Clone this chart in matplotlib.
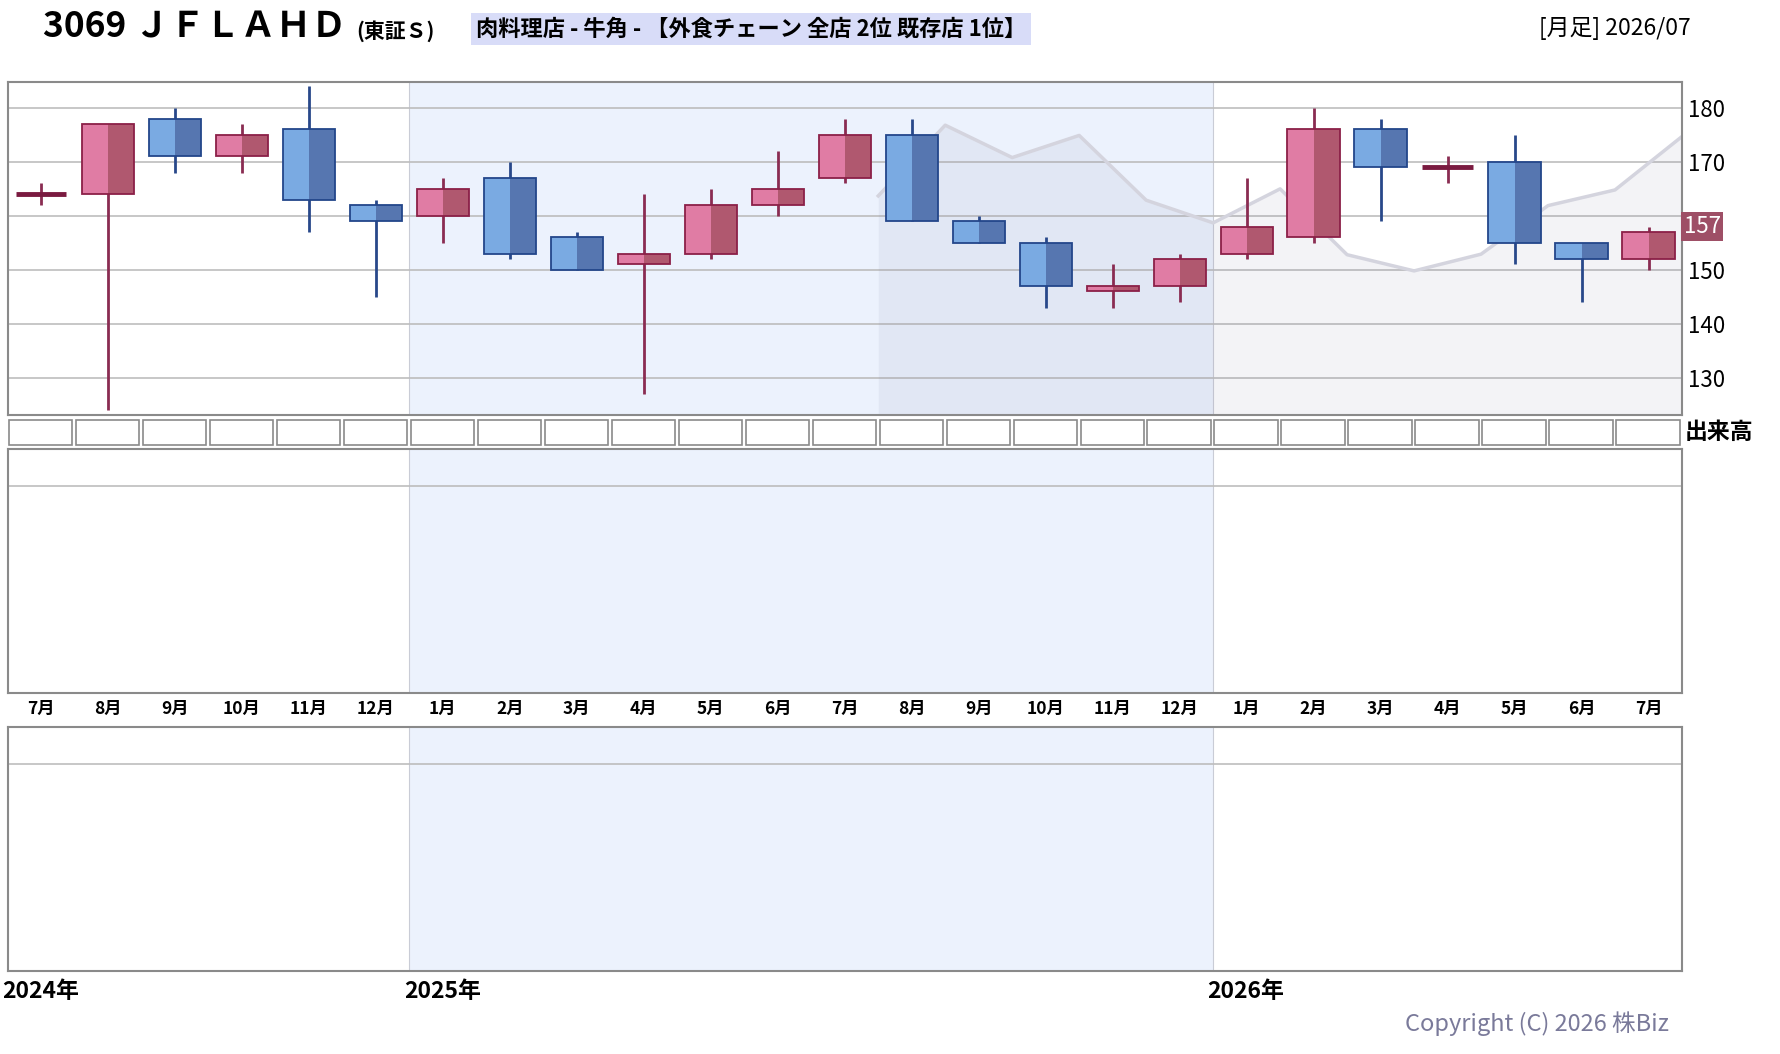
import matplotlib
matplotlib.use("Agg")
import matplotlib.pyplot as plt
import matplotlib.transforms as mtransforms

plt.rcParams['font.family'] = ['Noto Sans CJK JP', 'DejaVu Sans']

# ── monthly OHLC, 2024/07 .. 2026/07 ──
months = ["7月", "8月", "9月", "10月", "11月", "12月",
          "1月", "2月", "3月", "4月", "5月", "6月", "7月", "8月", "9月", "10月", "11月", "12月",
          "1月", "2月", "3月", "4月", "5月", "6月", "7月"]
opens  = [164, 164, 178, 171, 176, 162, 160, 167, 156, 151, 153, 162, 167,
          175, 159, 155, 146, 147, 153, 156, 176, 169, 170, 155, 152]
highs  = [166, 177, 180, 177, 184, 163, 167, 170, 157, 164, 165, 172, 178,
          178, 160, 156, 151, 153, 167, 180, 178, 171, 175, 155, 158]
lows   = [162, 124, 168, 168, 157, 145, 155, 152, 150, 127, 152, 160, 166,
          159, 155, 143, 143, 144, 152, 155, 159, 166, 151, 144, 150]
closes = [164, 177, 171, 175, 163, 159, 165, 153, 150, 153, 162, 165, 175,
          159, 155, 147, 147, 152, 158, 176, 169, 169, 155, 152, 157]

# gray comparison line (drawn on slot boundaries from 2025/08 on)
line_x = [12.5, 13.5, 14.5, 15.5, 16.5, 17.5, 18.5, 19.5, 20.5, 21.5, 22.5, 23.5, 24.5]
line_y = [163.7, 176.8, 170.8, 174.9, 162.9, 158.7, 165.0, 152.8, 149.8, 152.9, 161.9, 164.8, 174.7]

price_ticks = [130, 140, 150, 160, 170, 180]
price_labels = ["130", "140", "150", "", "170", "180"]
last_price = 157
years = ["2024年", "2025年", "2026年"]
year_starts = [-0.5, 5.5, 17.5]

W, H = 1780, 1054
fig = plt.figure(figsize=(W / 100, H / 100), dpi=100)


def add_ax(x0, y0, x1, y1):
    return fig.add_axes([x0 / W, 1 - y1 / H, (x1 - x0) / W, (y1 - y0) / H])


L, R = 7.5, 1682
ax = add_ax(L, 82, R, 415)
axv = add_ax(L, 419, R, 446)
ax2 = add_ax(L, 449, R, 693)
ax3 = add_ax(L, 727, R, 971)

BLUE_BG = '#ecf2fd'
EDGE = '#8a8a8a'
DIV = '#c9ccd6'

for a in (ax, ax2, ax3):
    a.set_xlim(-0.5, 24.5)
    a.axvspan(5.5, 17.5, color=BLUE_BG, lw=0, zorder=0)
    for xb in (5.5, 17.5):
        a.axvline(xb, color=DIV, lw=0.8, zorder=0.5)
    for s in a.spines.values():
        s.set_color(EDGE)
        s.set_linewidth(1.5)
    a.set_yticks([])
    a.set_xticks([])

# ── main candle panel ──
ax.set_ylim(123.1, 184.8)
for v in price_ticks:
    ax.axhline(v, color='#bdbdbd', lw=1.2, zorder=1)

ax.fill_between(line_x, line_y, 120, color='#8080a0', alpha=0.095, lw=0, zorder=1.2)
ax.plot(line_x, line_y, color='#d4d4de', lw=2.5, zorder=1.4)

bw = 0.78
for i, (o, h, l, c) in enumerate(zip(opens, highs, lows, closes)):
    up = c >= o
    wick = '#8a2c52' if up else '#28488a'
    edge = '#8b2048' if up else '#23468a'
    light = '#e07ca4' if up else '#7aaae2'
    dark = '#b0586f' if up else '#5676b0'
    ax.vlines(i, l, h, color=wick, lw=2, zorder=2)
    if o == c:
        ax.hlines(o, i - 0.375, i + 0.375, color='#7a1a40', lw=3.5, zorder=3)
        continue
    lo, hgt = min(o, c), abs(c - o)
    ax.bar(i - bw / 4, hgt, width=bw / 2, bottom=lo, color=light, lw=0, zorder=3)
    ax.bar(i + bw / 4, hgt, width=bw / 2, bottom=lo, color=dark, lw=0, zorder=3)
    ax.bar(i, hgt, width=bw, bottom=lo, fill=False, edgecolor=edge, lw=1.3, zorder=4)

ax.yaxis.tick_right()
ax.set_yticks(price_ticks)
ax.set_yticklabels(price_labels)
ax.tick_params(axis='y', length=0, pad=4, labelsize=16)
ytrans = mtransforms.blended_transform_factory(ax.transAxes, ax.transData)
ax.text(1.001, last_price + 1.0, str(last_price), transform=ytrans, color='white',
        fontsize=16, va='center', ha='left',
        bbox=dict(boxstyle='square,pad=0.12', fc='#9e4f66', ec='none'))

# ── volume box row ──
axv.set_xlim(-0.5, 24.5)
axv.set_ylim(0, 1)
axv.axis('off')
for i in range(len(months)):
    axv.add_patch(plt.Rectangle((i - 0.48, 0.03), 0.95, 0.94, fc='white',
                                ec='#8a8a8a', lw=1.2))
fig.text(1685 / W, 1 - 432 / H, "出来高", fontsize=16.5, fontweight='bold',
         va='center', ha='left')

# ── empty sub panels ──
for a in (ax2, ax3):
    a.set_ylim(0, 1)
    a.axhline(0.848, color='#bdbdbd', lw=1.2, zorder=1)

ax2.set_xticks(range(len(months)))
ax2.set_xticklabels(months, fontsize=12.5, fontweight='bold')
ax2.tick_params(axis='x', length=0, pad=5)

for yl, xs in zip(years, year_starts):
    ax3.annotate(yl, xy=(xs, 0), xycoords=('data', 'axes fraction'),
                 xytext=(-4, -15), textcoords='offset points',
                 fontsize=16.5, fontweight='bold', ha='left', va='center')

# ── header / footer ──
fig.text(43 / W, 1 - 27 / H, "3069 ＪＦＬＡＨＤ", fontsize=25.5, fontweight='bold',
         va='center', ha='left')
fig.text(356 / W, 1 - 31 / H, "(東証Ｓ)", fontsize=15, fontweight='bold',
         va='center', ha='left')
fig.text(476 / W, 1 - 29 / H, "肉料理店 - 牛角 - 【外食チェーン 全店 2位 既存店 1位】",
         fontsize=16, fontweight='bold', va='center', ha='left',
         bbox=dict(boxstyle='square,pad=0.22', fc='#d8dcf8', ec='none'))
fig.text(1691 / W, 1 - 29 / H, "[月足] 2026/07", fontsize=16.5, va='center', ha='right')
fig.text(1669 / W, 1 - 1024 / H, "Copyright (C) 2026 株Biz", fontsize=17,
         color='#7a7a9a', va='center', ha='right')

fig.savefig("out.png", dpi=100)
